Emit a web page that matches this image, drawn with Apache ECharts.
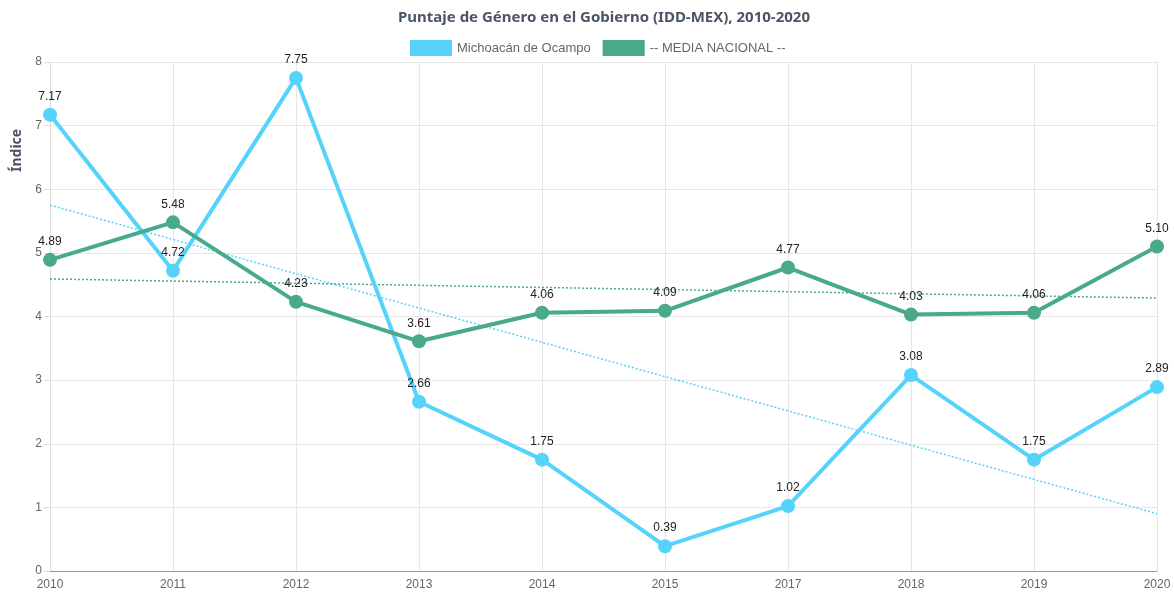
<!DOCTYPE html>
<html>
<head>
<meta charset="utf-8">
<script src="https://cdn.jsdelivr.net/npm/echarts@6/dist/echarts.min.js"></script>
<style>
  html, body { margin: 0; padding: 0; background: #fff; }
  #chart { width: 1174px; height: 596px; }
</style>
</head>
<body>
<div id="chart"></div>
<script>
// datos
var years = ['2010', '2011', '2012', '2013', '2014', '2015', '2017', '2018', '2019', '2020'];
var michoacan = [7.17, 4.72, 7.75, 2.66, 1.75, 0.39, 1.02, 3.08, 1.75, 2.89];
var nacional = [4.89, 5.48, 4.23, 3.61, 4.06, 4.09, 4.77, 4.03, 4.06, 5.10];
// extremos de las lineas de tendencia
var tendMichoacan = [5.75, 0.9];
var tendNacional = [4.59, 4.29];
var yTicks = [0, 1, 2, 3, 4, 5, 6, 7, 8];

var azul = '#56d3fb';
var verde = '#48a98b';

var chart = echarts.init(document.getElementById('chart'));

function lineaTendencia(vals, color) {
    return {
        type: 'line',
        data: [[years[0], vals[0]], [years[years.length - 1], vals[1]]],
        symbol: 'none',
        silent: true,
        lineStyle: { color: color, width: 1.5, type: [2, 2] },
        z: 1
    };
}

function serieDatos(nombre, vals, color) {
    return {
        name: nombre,
        type: 'line',
        data: vals,
        symbol: 'circle',
        symbolSize: 14,
        itemStyle: { color: color },
        lineStyle: { color: color, width: 4 },
        label: {
            show: true,
            position: 'top',
            distance: 5,
            color: '#222',
            fontSize: 12,
            fontFamily: 'Liberation Sans, Arial, sans-serif',
            formatter: function (p) { return p.value.toFixed(2); }
        },
        z: 3
    };
}

var option = {
    animation: false,
    title: {
        text: 'Puntaje de Género en el Gobierno (IDD-MEX), 2010-2020',
        left: 393,
        top: 5,
        textStyle: {
            fontFamily: 'Noto Sans, sans-serif',
            fontWeight: 'bold',
            fontSize: 15,
            color: '#4b5563'
        }
    },
    legend: {
        data: ['Michoacán de Ocampo', '-- MEDIA NACIONAL --'],
        top: 35,
        left: 405,
        itemWidth: 42,
        itemHeight: 16,
        itemGap: 12,
        icon: 'rect',
        textStyle: {
            fontFamily: 'Liberation Sans, Arial, sans-serif',
            fontSize: 13,
            color: '#666'
        }
    },
    graphic: [{
        type: 'text',
        x: 10,
        y: 172,
        rotation: Math.PI / 2,
        style: {
            text: 'Índice',
            font: 'bold 14px "Noto Sans", sans-serif',
            fill: '#4b5563',
            textVerticalAlign: 'top'
        }
    }],
    grid: { left: 50, right: 17, top: 62, bottom: 25 },
    xAxis: {
        type: 'category',
        data: years,
        boundaryGap: false,
        axisLine: { lineStyle: { color: '#999' } },
        axisTick: { show: false },
        axisLabel: {
            color: '#666',
            fontSize: 12,
            fontFamily: 'Liberation Sans, Arial, sans-serif',
            margin: 8
        },
        splitLine: { show: true, lineStyle: { color: '#e6e6e6' } }
    },
    yAxis: {
        type: 'value',
        min: yTicks[0],
        max: yTicks[yTicks.length - 1],
        interval: 1,
        axisLine: { show: true, lineStyle: { color: '#ddd' } },
        axisTick: { show: true, length: 6, lineStyle: { color: '#ddd' } },
        axisLabel: {
            color: '#666',
            fontSize: 12,
            fontFamily: 'Liberation Sans, Arial, sans-serif',
            margin: 8
        },
        splitLine: { lineStyle: { color: '#e6e6e6' } }
    },
    series: [
        serieDatos('Michoacán de Ocampo', michoacan, azul),
        serieDatos('-- MEDIA NACIONAL --', nacional, verde),
        lineaTendencia(tendMichoacan, azul),
        lineaTendencia(tendNacional, verde)
    ]
};

chart.setOption(option);
</script>
</body>
</html>
